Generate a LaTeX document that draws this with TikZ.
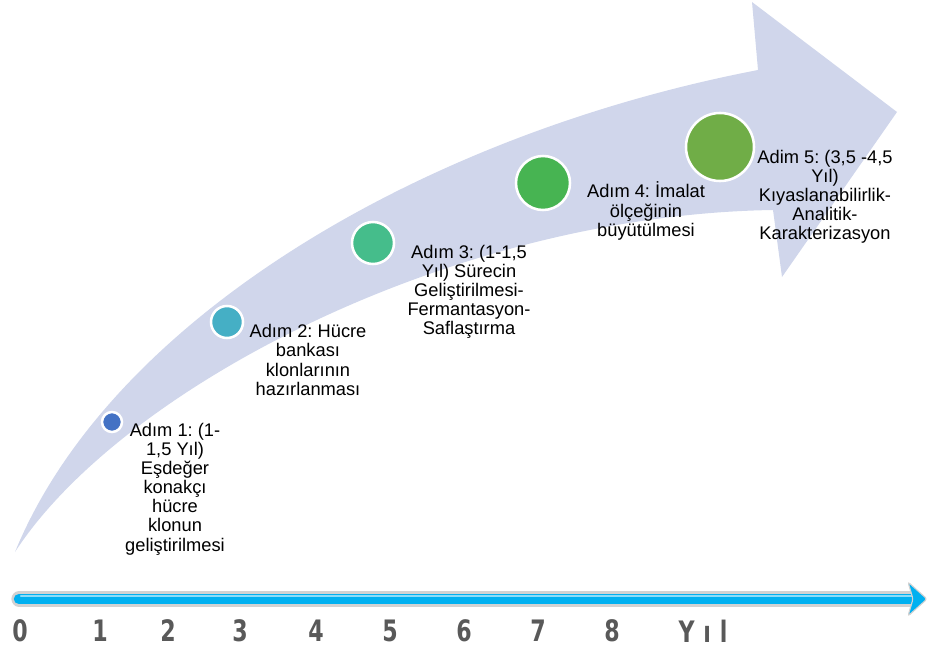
\documentclass[tikz,border=0pt]{standalone}
\usepackage{fontspec}
\setmainfont{Liberation Sans}
\newfontfamily\axisfont{DejaVu Sans}[FakeStretch=0.75]
\usetikzlibrary{positioning, calc}
\definecolor{BandLavender}{HTML}{D0D6EB}
\definecolor{StepBlue}{HTML}{4472C4}
\definecolor{StepTeal}{HTML}{45AFC5}
\definecolor{StepJade}{HTML}{45BD8B}
\definecolor{StepGreen}{HTML}{47B452}
\definecolor{StepOlive}{HTML}{70AD47}
\definecolor{AxisBlue}{HTML}{00B0F0}
\definecolor{AxisRim}{HTML}{D2D2D2}
\definecolor{YearGrey}{HTML}{595959}
\frenchspacing

\begin{document}
\begin{tikzpicture}[x=0.025cm, y=-0.025cm,
    milestone/.style={circle, draw=white, line width=1.8pt, inner sep=0pt},
    steptext/.style={align=center, inner sep=0pt, font=\fontsize{13}{13.6}\selectfont},
    yearlabel/.style={text=YearGrey, inner sep=0pt, font=\axisfont\bfseries\fontsize{21}{21}\selectfont}]
        \useasboundingbox (0,0) rectangle (928,650);

        % Curved band arrow
        \fill[BandLavender] (15,552) .. controls (110,320) and (420,135) .. (758,70)
            -- (752,2) -- (897,112) -- (782,277) -- (773,210)
            .. controls (450,215) and (120,390) .. (15,552) -- cycle;

        % Milestones
        \node[milestone, fill=StepBlue, minimum size=0.5cm] (m1) at (112,422) {};
        \node[milestone, fill=StepTeal, minimum size=0.8cm] (m2) at (227,322) {};
        \node[milestone, fill=StepJade, minimum size=1.05cm] (m3) at (373,243) {};
        \node[milestone, fill=StepGreen, minimum size=1.35cm] (m4) at (543,183) {};
        \node[milestone, fill=StepOlive, minimum size=1.7cm] (m5) at (720,147) {};

        % Step descriptions
        \node[steptext] (t1) at (175,489) {Adım 1: (1-\\1,5 Yıl)\\Eşdeğer\\konakçı\\hücre\\klonun\\geliştirilmesi};
        \node[steptext] (t2) at (308,360) {Adım 2: Hücre\\bankası\\klonlarının\\hazırlanması};
        \node[steptext] (t3) at (469,292) {Adım 3: (1-1,5\\Yıl) Sürecin\\Geliştirilmesi-\\Fermantasyon-\\Saflaştırma};
        \node[steptext] (t4) at (646,211) {Adım 4: İmalat\\ölçeğinin\\büyütülmesi};
        \node[steptext] (t5) at (825,197) {Adim 5: (3,5 -4,5\\Yıl)\\Kıyaslanabilirlik-\\Analitik-\\Karakterizasyon};

        % Time axis
        \coordinate (axL) at (19,599);
        \coordinate (axR) at (912,599);
        \draw[AxisRim, line width=0.38cm, line cap=round] (axL) -- (axR);
        \draw[AxisBlue, line width=0.26cm, line cap=round] (axL) -- (axR);
        \draw[AxisBlue!45!white, line width=0.06cm, line cap=round] ($(axL)+(2,-3)$) -- ($(axR)+(0,-3)$);
        \filldraw[fill=AxisBlue, draw=AxisRim, line width=0.8pt, rounded corners=0.06cm]
            (908,582) -- (927,599) -- (908,616) -- (913,599) -- cycle;

        % Year labels
        \foreach \yr/\xp in {0/20, 1/100, 2/168, 3/240, 4/316, 5/390, 6/464, 7/538, 8/612}
            \node[yearlabel] (yr\yr) at (\xp,631) {\yr};
        \node[yearlabel] (yrunit) at (703,631) {Y\hspace{0.3em}ı\hspace{0.3em}l};
    \end{tikzpicture}
\end{document}
